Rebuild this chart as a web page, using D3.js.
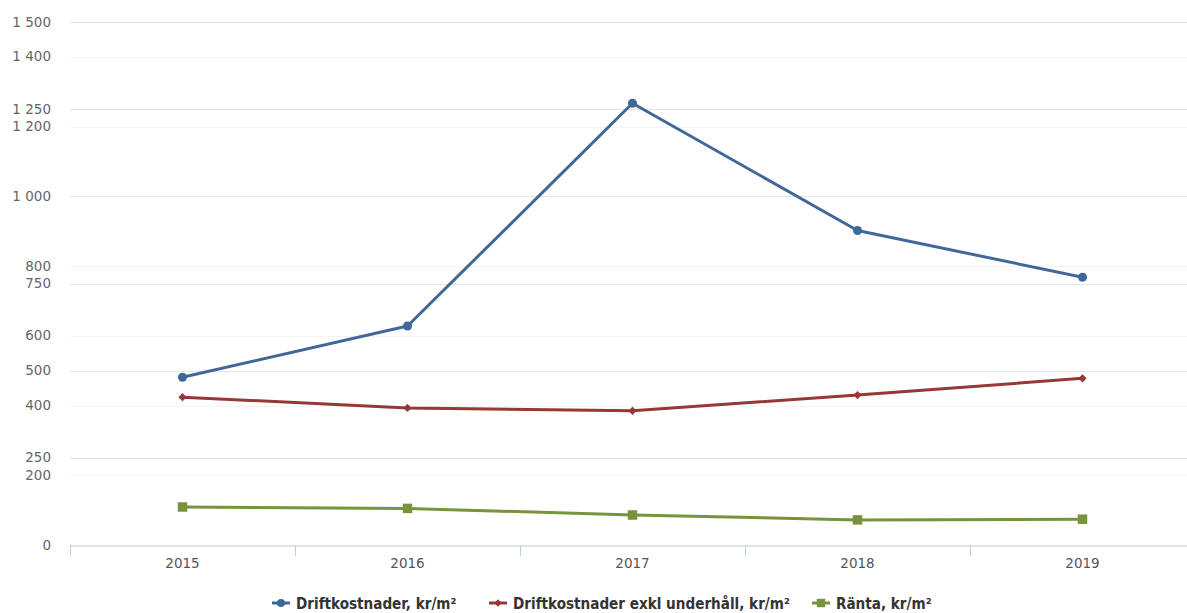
<!DOCTYPE html>
<html>
<head>
<meta charset="utf-8">
<script src="https://cdn.jsdelivr.net/npm/d3@7"></script>
<style>
  body { margin: 0; background: #fff; }
  svg { display: block; font-family: "DejaVu Sans", Verdana, sans-serif; }
</style>
</head>
<body>
<div id="chart"></div>
<script>
var years = ["2015", "2016", "2017", "2018", "2019"]
var drift = [481, 628, 1267, 902, 768]
var driftExkl = [424, 393, 385, 430, 478]
var ranta = [109, 105, 86, 72, 74]
var ticksA = [0, 200, 400, 600, 800, 1000, 1200, 1400]   // light grid
var ticksB = [250, 500, 750, 1000, 1250, 1500]           // darker grid
var seriesNames = ["Driftkostnader, kr/m²", "Driftkostnader exkl underhåll, kr/m²", "Ränta, kr/m²"]
var seriesColors = ["#3f6899", "#953836", "#77933c"]

var width = 1187, height = 613
var margin = {left: 70, right: -8, top: 22, bottom: 68}

var svg = d3.select("#chart").append("svg")
    .attr("width", width)
    .attr("height", height)

var x = d3.scaleBand().domain(years).range([margin.left, width - margin.right])
var y = d3.scaleLinear().domain([0, 1500]).range([height - margin.bottom, margin.top])

// grid lines
svg.append("g").selectAll("line").data(ticksA).enter().append("line")
    .attr("x1", margin.left).attr("x2", width)
    .attr("y1", d => Math.round(y(d)) + 0.5).attr("y2", d => Math.round(y(d)) + 0.5)
    .attr("stroke", "#f3f3f3")
svg.append("g").selectAll("line").data(ticksB).enter().append("line")
    .attr("x1", margin.left).attr("x2", width)
    .attr("y1", d => Math.round(y(d)) + 0.5).attr("y2", d => Math.round(y(d)) + 0.5)
    .attr("stroke", "#e4e4e4")

// y labels
var allTicks = Array.from(new Set(ticksA.concat(ticksB)))
svg.append("g").selectAll("text").data(allTicks).enter().append("text")
    .attr("x", 51)
    .attr("y", d => y(d) + 4.5)
    .attr("text-anchor", "end")
    .attr("font-size", 13.5)
    .attr("fill", "#666")
    .text(d => d3.format(",")(d).replace(",", " "))

// x axis
var xAxis = d3.axisBottom(x).tickSize(0).tickPadding(13)
var gx = svg.append("g").attr("transform", "translate(0," + (y(0) + 0.5) + ")").call(xAxis)
gx.select(".domain").attr("stroke", "#c0d0e0")
gx.selectAll("text").attr("font-size", 13.5).attr("fill", "#555").attr("font-family", "DejaVu Sans, Verdana, sans-serif")
svg.append("g").selectAll("line").data(years).enter().append("line")
    .attr("x1", d => Math.round(x(d)) + 0.5).attr("x2", d => Math.round(x(d)) + 0.5)
    .attr("y1", y(0)).attr("y2", y(0) + 11)
    .attr("stroke", "#c0d0e0")

var line = d3.line().x((d, i) => x(years[i]) + x.bandwidth() / 2).y(d => y(d))

var allSeries = [drift, driftExkl, ranta]
var markerTypes = [d3.symbolCircle, d3.symbolSquare, d3.symbolSquare]
var markerSizes = [64, 34, 90]
var markerRotate = [0, 45, 0]

allSeries.forEach(function(data, s) {
    svg.append("path")
        .attr("d", line(data))
        .attr("fill", "none")
        .attr("stroke", seriesColors[s])
        .attr("stroke-width", 3)
        .attr("stroke-linejoin", "round")
    svg.append("g").selectAll("path").data(data).enter().append("path")
        .attr("d", d3.symbol().type(markerTypes[s]).size(markerSizes[s]))
        .attr("transform", (d, i) => "translate(" + (x(years[i]) + x.bandwidth() / 2) + "," + y(d) + ") rotate(" + markerRotate[s] + ")")
        .attr("fill", seriesColors[s])
})

// legend
var legendX = [272, 489, 812]
var legend = svg.append("g")
seriesNames.forEach(function(name, s) {
    var g = legend.append("g").attr("transform", "translate(" + legendX[s] + ",603)")
    g.append("line").attr("x1", 0).attr("x2", 18).attr("y1", 0).attr("y2", 0)
        .attr("stroke", seriesColors[s]).attr("stroke-width", 3)
    g.append("path").attr("d", d3.symbol().type(markerTypes[s]).size(markerSizes[s] * 0.8))
        .attr("transform", "translate(9,0) rotate(" + markerRotate[s] + ")").attr("fill", seriesColors[s])
    g.append("text").attr("x", 24).attr("y", 5.5)
        .attr("font-size", 15.1).attr("font-weight", "bold")
        .attr("font-family", "'DejaVu Sans Condensed', 'DejaVu Sans', sans-serif")
        .attr("fill", "#333")
        .text(name)
})
</script>
</body>
</html>
